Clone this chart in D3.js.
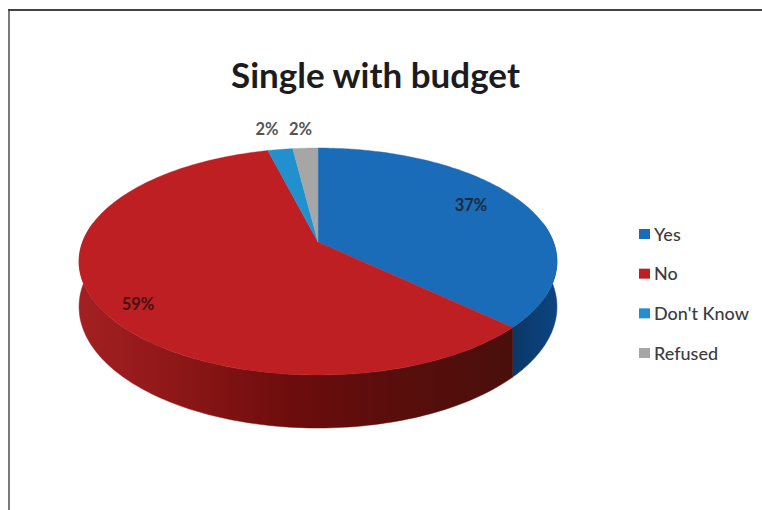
<!DOCTYPE html>
<html>
<head>
<meta charset="utf-8">
<style>
  html, body { margin: 0; padding: 0; background: #fff; }
  svg { display: block; }
  text { font-family: Lato, "Open Sans", sans-serif; }
</style>
<script src="https://cdn.jsdelivr.net/npm/d3@7"></script>
</head>
<body>
<svg id="chart" width="762" height="510"></svg>
<script>
const categories = ["Yes", "No", "Don't Know", "Refused"];
const shares = [37, 59, 2, 2];
const topColors = ["#1a6bb8", "#bd1f22", "#2190cf", "#a6a6a6"];
const chartTitle = "Single with budget";

const svg = d3.select("#chart");
const defs = svg.append("defs");

// Tilted disc: a unit circle projected with a little perspective, so the
// near half of the pie looks larger than the far half.
const disc = { cx: 318, cy: 242, a: 235.4, b: 110.15, p: 0.1718, depth: 43.9 };
const project = (angle, r = 1, drop = 0) => {
  const u = r * Math.sin(angle), v = -r * Math.cos(angle), w = 1 - disc.p * v;
  return [disc.cx + disc.a * u / w, disc.cy + (disc.b * v + drop * disc.depth) / w];
};

const slices = d3.pie().sort(null).value(d => d)(shares);
const line = d3.line();
const sweep = (a0, a1) => d3.range(0, 121).map(i => a0 + (a1 - a0) * i / 120);

// Side wall shading runs along x, darkening towards the front right.
const sideStops = [
  ["red", [[0, "#a32022"], [0.22, "#8e1718"], [0.5, "#6c0c0c"], [0.72, "#5a0e0c"], [1, "#4a0f0b"]]],
  ["blue", [[0, "#0a3766"], [1, "#0d4480"]]]
];
sideStops.forEach(([name, stops]) => {
  const g = defs.append("linearGradient").attr("id", "side-" + name)
    .attr("gradientUnits", "userSpaceOnUse")
    .attr("x1", name === "red" ? 80 : 510).attr("x2", name === "red" ? 510 : 556)
    .attr("y1", 0).attr("y2", 0);
  stops.forEach(([o, c]) => g.append("stop").attr("offset", o).attr("stop-color", c));
});

// Side wall: only the arc facing the viewer (right rim round to left rim).
const rimStart = Math.PI / 2 - Math.asin(disc.p), rimEnd = 2 * Math.PI - rimStart;
const sideFill = ["url(#side-blue)", "url(#side-red)"];
slices.slice(0, 2).forEach((s, i) => {
  const a0 = Math.max(s.startAngle, rimStart), a1 = Math.min(s.endAngle, rimEnd);
  const rim = sweep(a0, a1);
  const outline = rim.map(a => project(a)).concat(rim.slice().reverse().map(a => project(a, 1, 1)));
  svg.append("path").attr("d", line(outline) + "Z").attr("fill", sideFill[i])
    .attr("stroke", sideFill[i]).attr("stroke-width", 0.5);
});

// Top face of each slice.
slices.forEach((s, i) => {
  const pts = [[disc.cx, disc.cy]].concat(sweep(s.startAngle, s.endAngle).map(a => project(a)));
  svg.append("path").attr("d", line(pts) + "Z").attr("fill", topColors[i])
    .attr("stroke", topColors[i]).attr("stroke-width", 0.4);
});

// Panel frame: only the top and left edges are in view.
svg.append("path").attr("d", "M9,510V10").attr("fill", "none")
  .attr("stroke", "#7a7a7a").attr("stroke-width", 2);
svg.append("path").attr("d", "M8,10H762").attr("fill", "none")
  .attr("stroke", "#444").attr("stroke-width", 2.2);

svg.append("text").attr("x", 375.5).attr("y", 88).attr("text-anchor", "middle")
  .attr("font-size", 35).attr("font-weight", 700).attr("fill", "#1c1c1e").text(chartTitle);

// Percentage labels sit at fixed anchors chosen per slice.
const labelAnchors = [[471, 207], [138, 306], [267, 131], [300.5, 131]];
const labelFill = ["#1f2a38", "#4a0f10", "#555", "#555"];
svg.selectAll("text.pct").data(shares).join("text").attr("class", "pct")
  .attr("x", (d, i) => labelAnchors[i][0]).attr("y", (d, i) => labelAnchors[i][1])
  .attr("text-anchor", "middle").attr("dominant-baseline", "middle")
  .attr("font-size", 16.5).attr("font-weight", 700)
  .attr("fill", (d, i) => labelFill[i]).text(d => d + "%");

// Legend.
const legendY = d3.scalePoint().domain(categories).range([234, 353]);
const legend = svg.selectAll("g.key").data(categories).join("g").attr("class", "key")
  .attr("transform", d => `translate(639,${legendY(d)})`);
legend.append("rect").attr("y", -5).attr("width", 11).attr("height", 10)
  .attr("fill", (d, i) => topColors[i]);
legend.append("text").attr("x", 15).attr("y", 2).attr("dominant-baseline", "middle")
  .attr("font-size", 18).attr("font-weight", 500).attr("fill", "#3c3c40").text(d => d);
</script>
</body>
</html>
